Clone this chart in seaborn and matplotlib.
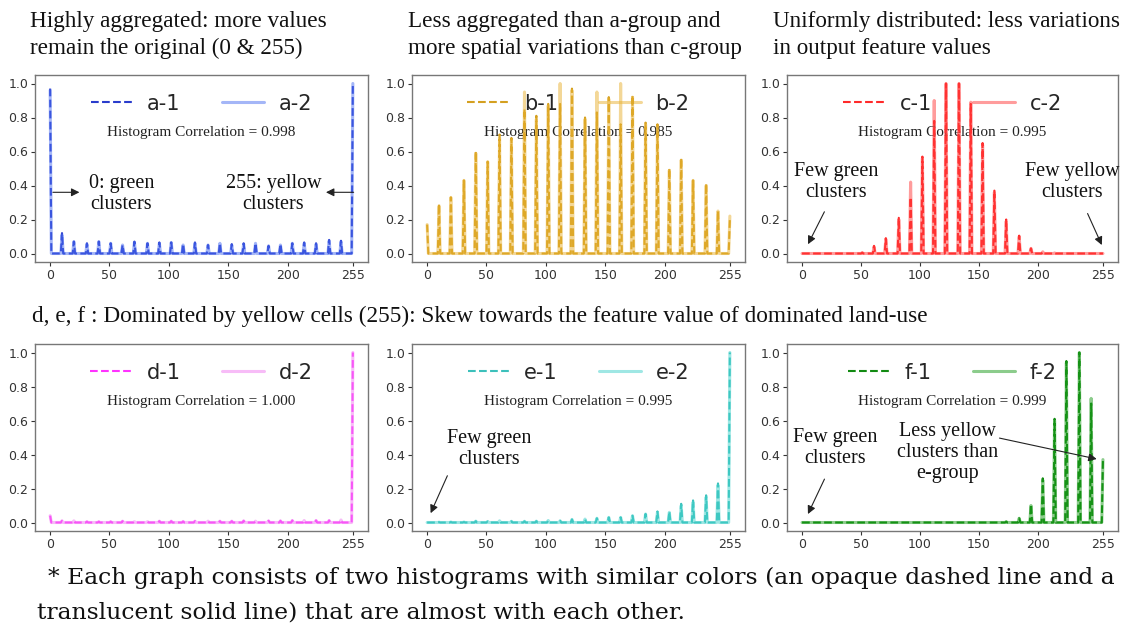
import numpy as np
import pandas as pd
import matplotlib
matplotlib.use("Agg")
import matplotlib.pyplot as plt
import seaborn as sns

# Quantised feature levels (26 levels between 0 and 255)
levels = [0, 10, 20, 31, 41, 51, 61, 71, 82, 92, 102, 112, 122,
          133, 143, 153, 163, 173, 184, 194, 204, 214, 224, 235, 245, 255]

# Normalised histogram heights at each level, two histograms per panel
a1 = [0.97, 0.12, 0.07, 0.06, 0.07, 0.06, 0.05, 0.07, 0.06, 0.065, 0.065, 0.055, 0.065,
      0.05, 0.06, 0.055, 0.06, 0.06, 0.045, 0.055, 0.06, 0.065, 0.06, 0.08, 0.075, 1.0]
a2 = [0.96, 0.11, 0.07, 0.055, 0.07, 0.06, 0.05, 0.065, 0.06, 0.06, 0.065, 0.05, 0.06,
      0.05, 0.06, 0.05, 0.055, 0.06, 0.045, 0.05, 0.06, 0.06, 0.055, 0.075, 0.07, 1.0]
b1 = [0.17, 0.29, 0.33, 0.43, 0.60, 0.54, 0.70, 0.68, 0.85, 0.81, 0.88, 0.88, 0.97,
      0.80, 0.83, 0.92, 0.76, 0.93, 0.77, 0.76, 0.50, 0.56, 0.43, 0.41, 0.25, 0.20]
b2 = [0.17, 0.28, 0.33, 0.43, 0.59, 0.54, 0.68, 0.67, 0.95, 0.79, 0.87, 1.00, 0.96,
      0.79, 0.95, 0.91, 1.00, 0.92, 0.76, 0.75, 0.49, 0.55, 0.43, 0.40, 0.25, 0.22]
c1 = [0.0, 0.0, 0.0, 0.0, 0.0, 0.005, 0.045, 0.09, 0.21, 0.33, 0.57, 0.78, 1.0,
      1.0, 0.88, 0.65, 0.37, 0.20, 0.105, 0.03, 0.01, 0.003, 0.0, 0.0, 0.0, 0.0]
c2 = [0.0, 0.0, 0.0, 0.0, 0.0, 0.005, 0.04, 0.085, 0.20, 0.42, 0.56, 0.90, 1.0,
      1.0, 0.89, 0.64, 0.36, 0.19, 0.10, 0.03, 0.01, 0.003, 0.0, 0.0, 0.0, 0.0]
d1 = [0.04, 0.01, 0.01, 0.005, 0.005, 0.005, 0.008, 0.005, 0.005, 0.008, 0.008, 0.006, 0.008,
      0.008, 0.008, 0.008, 0.01, 0.008, 0.01, 0.01, 0.012, 0.012, 0.012, 0.012, 0.015, 1.0]
d2 = [0.04, 0.01, 0.01, 0.005, 0.005, 0.005, 0.008, 0.005, 0.005, 0.008, 0.008, 0.006, 0.008,
      0.008, 0.008, 0.008, 0.01, 0.008, 0.01, 0.01, 0.012, 0.012, 0.012, 0.012, 0.015, 1.0]
e1 = [0.0, 0.002, 0.003, 0.003, 0.008, 0.006, 0.01, 0.007, 0.007, 0.008, 0.012, 0.01, 0.018,
      0.02, 0.025, 0.03, 0.03, 0.04, 0.05, 0.065, 0.065, 0.11, 0.13, 0.16, 0.23, 1.0]
e2 = [0.0, 0.002, 0.003, 0.003, 0.008, 0.006, 0.01, 0.007, 0.007, 0.008, 0.012, 0.01, 0.018,
      0.02, 0.025, 0.03, 0.03, 0.04, 0.05, 0.06, 0.06, 0.10, 0.12, 0.15, 0.22, 1.0]
f1 = [0.0, 0.0, 0.0, 0.0, 0.0, 0.0, 0.0, 0.0, 0.0, 0.0, 0.0, 0.0, 0.0,
      0.0, 0.0, 0.0, 0.0, 0.005, 0.025, 0.105, 0.26, 0.61, 0.95, 1.0, 0.70, 0.37]
f2 = [0.0, 0.0, 0.0, 0.0, 0.0, 0.0, 0.0, 0.0, 0.0, 0.0, 0.0, 0.0, 0.0,
      0.0, 0.0, 0.0, 0.0, 0.005, 0.025, 0.10, 0.25, 0.60, 0.94, 1.0, 0.73, 0.37]

panel_names = ["a", "b", "c", "d", "e", "f"]
correlations = ["0.998", "0.985", "0.995", "1.000", "0.995", "0.999"]
x_ticks = [0, 50, 100, 150, 200, 255]
y_ticks = [0.0, 0.2, 0.4, 0.6, 0.8, 1.0]

series = {"a": (a1, a2), "b": (b1, b2), "c": (c1, c2),
          "d": (d1, d2), "e": (e1, e2), "f": (f1, f2)}
colors = {"a": ("#2a3ccc", "#4a6ef0"), "b": ("#d4a020", "#e8b030"),
          "c": ("#ff2a2a", "#ff3b3b"), "d": ("#ff33ff", "#f07af0"),
          "e": ("#3cc0bb", "#40d0ca"), "f": ("#128a12", "#1a9a1a")}


def histogram(heights):
    """Spread level heights onto 256 grey-value bins."""
    h = np.zeros(256)
    for lv, v in zip(levels, heights):
        h[lv] = v
    return pd.DataFrame({"value": np.arange(256), "freq": h})


sns.set_theme(style="ticks")
plt.rcParams["font.family"] = ["DejaVu Sans"]
serif = ["Liberation Serif", "DejaVu Serif"]
book = ["DejaVu Serif"]

W, H = 1128, 633
fig = plt.figure(figsize=(W / 100, H / 100), dpi=100)
fig.patch.set_facecolor("white")
renderer = fig.canvas.get_renderer()


def fit_width(txt, width_px):
    """Scale a text's font size so that it spans the given pixel width."""
    w = txt.get_window_extent(renderer).width
    txt.set_fontsize(txt.get_fontsize() * width_px / w)


cols = [(35, 368), (412, 745), (787, 1118)]
rows = [(75, 262), (344, 531)]

axes = {}
for i, name in enumerate(panel_names):
    r, c = divmod(i, 3)
    x0, x1 = cols[c]
    y0, y1 = rows[r]
    ax = fig.add_axes([x0 / W, 1 - y1 / H, (x1 - x0) / W, (y1 - y0) / H])
    axes[name] = ax
    s1, s2 = series[name]
    col1, col2 = colors[name]
    sns.lineplot(data=histogram(s1), x="value", y="freq", ax=ax, color=col1,
                 linestyle="--", linewidth=1.5, label=f"{name}-1", zorder=3)
    sns.lineplot(data=histogram(s2), x="value", y="freq", ax=ax, color=col2,
                 linestyle="-", linewidth=2.2, alpha=0.5, label=f"{name}-2", zorder=3)
    ax.set_xticks(x_ticks)
    ax.set_yticks(y_ticks)
    ax.set_xlabel("")
    ax.set_ylabel("")
    ax.tick_params(labelsize=9, colors="#333333", length=3, width=0.8, pad=2)
    for sp in ax.spines.values():
        sp.set_visible(True)
        sp.set_color("#777777")
        sp.set_linewidth(1.0)
    leg = ax.legend(loc="upper center", ncol=2, frameon=False, fontsize=15,
                    handlelength=2.0, handletextpad=0.7, columnspacing=2.0)
    leg.set_zorder(1)
    ax.text(127.5, 0.71, f"Histogram Correlation = {correlations[i]}",
            ha="center", va="center", fontsize=11, family=serif,
            color="#222222", zorder=2)

arrow = dict(arrowstyle="-|>", color="#222222", lw=0.8, mutation_scale=12)
note = dict(ha="center", va="center", fontsize=14.5, family=serif,
            color="#111111", linespacing=1.15)

# Panel a notes
ax = axes["a"]
ax.annotate("", xy=(27, 0.36), xytext=(0, 0.36), arrowprops=arrow)
ax.text(60, 0.35, "0: green\nclusters", **note)
ax.annotate("", xy=(230, 0.36), xytext=(258, 0.36), arrowprops=arrow)
ax.text(188, 0.35, "255: yellow\nclusters", **note)

# Panel c notes
ax = axes["c"]
ax.text(29, 0.42, "Few green\nclusters", **note)
ax.annotate("", xy=(4, 0.04), xytext=(20, 0.26), arrowprops=arrow)
ax.text(229, 0.42, "Few yellow\nclusters", clip_on=False, **note)
ax.annotate("", xy=(255, 0.035), xytext=(241, 0.25), arrowprops=arrow)

# Panel e notes
ax = axes["e"]
ax.text(52, 0.435, "Few green\nclusters", **note)
ax.annotate("", xy=(2, 0.04), xytext=(18, 0.29), arrowprops=arrow)

# Panel f notes
ax = axes["f"]
ax.text(28, 0.44, "Few green\nclusters", **note)
ax.annotate("", xy=(4, 0.035), xytext=(20, 0.27), arrowprops=arrow)
ax.text(123, 0.41, "Less yellow\nclusters than\ne-group", **note)
ax.annotate("", xy=(252, 0.37), xytext=(165, 0.5), arrowprops=arrow)

# Captions above and between the panel rows
cap = dict(fontsize=16.7, family=serif, color="#111111", va="center",
           ha="left", linespacing=1.32)
fig.text(30 / W, 1 - 35 / H, "Highly aggregated: more values\nremain the original (0 & 255)", **cap)
fig.text(408 / W, 1 - 35 / H, "Less aggregated than a-group and\nmore spatial variations than c-group", **cap)
fig.text(773 / W, 1 - 35 / H, "Uniformly distributed: less variations\nin output feature values", **cap)
mid = fig.text(32 / W, 1 - 316 / H,
               "d, e, f : Dominated by yellow cells (255): Skew towards the feature value of dominated land-use",
               **cap)
fit_width(mid, 895)

# Footnote
foot = dict(fontsize=16, family=book, color="#111111", va="center", ha="left")
f1_txt = fig.text(48 / W, 1 - 578 / H,
                  "* Each graph consists of two histograms with similar colors (an opaque dashed line and a",
                  **foot)
fit_width(f1_txt, 1068)
f2_txt = fig.text(37 / W, 1 - 613 / H,
                  "translucent solid line) that are almost with each other.", **foot)
f2_txt.set_fontsize(f1_txt.get_fontsize())

fig.savefig("out.png", dpi=100, facecolor="white")
